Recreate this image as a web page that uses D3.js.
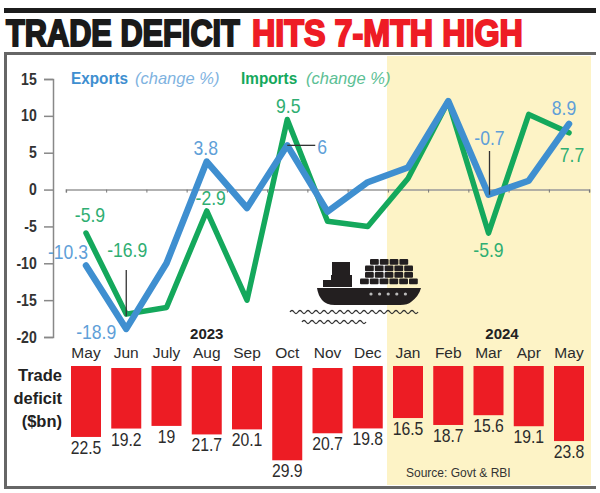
<!DOCTYPE html>
<html><head><meta charset="utf-8">
<script src="https://cdnjs.cloudflare.com/ajax/libs/d3/7.8.5/d3.min.js"></script>
<style>html,body{margin:0;padding:0;background:#fff}svg{display:block}text{font-family:"Liberation Sans",sans-serif}</style>
</head><body><svg id="c" width="600" height="493"></svg>
<script>
const months=["May","Jun","July","Aug","Sep","Oct","Nov","Dec","Jan","Feb","Mar","Apr","May"];
const exportsChange=[-10.3,-18.9,-10,3.8,-2.5,6,-3,1,3,12,-0.7,1.2,8.9];
const importsChange=[-5.9,-16.9,-16,-2.9,-15,9.5,-4.3,-5,1.5,12,-5.9,10.2,7.7];
const tradeDeficit=[22.5,19.2,19,21.7,20.1,29.9,20.7,19.8,16.5,18.7,15.6,19.1,23.8];
const yTicks=[15,10,5,0,-5,-10,-15,-20];
const exportLabels=[["-10.3",0,-18,-6],["-18.9",1,-30,10],["3.8",3,-1,-7],["-0.7",10,1,-50],["8.9",12,-5,-9]];
const importLabels=[["-5.9",0,4,-11],["-16.9",1,1,-57],["-2.9",3,4,-6],["9.5",5,1,-7],["-5.9",10,0,24],["7.7",12,3,29]];
const droppedBars=[1,6];

const svg=d3.select("#c");
const x=d3.scalePoint().domain(d3.range(months.length)).range([86,569]);
const xEdge=d3.scaleLinear().domain([-0.5,12.5]).range([65.9,589.1]);
const y=d3.scaleLinear().domain([-20,15]).range([337,79]);
const h=d3.scaleLinear().domain([0,30]).range([0,94.6]);
const BLUE="#3f8fd0",LBLUE="#5f9fd8",GREEN="#14a85c",LGREEN="#2fae72",DARK="#2c2c2c",RED="#ed1c24";
const narrow=(sel,s)=>sel.attr("transform",function(){const a=+this.getAttribute("x");return `translate(${a*(1-s)},0) scale(${s},1)`;});

svg.append("rect").attr("x",387).attr("y",56).attr("width",204).attr("height",429).attr("fill","#fdf3c6");
svg.append("rect").attr("x",4).attr("y",8).attr("width",592).attr("height",5).attr("fill","#1c1c1c");
svg.append("rect").attr("x",4).attr("y",52).attr("width",592).attr("height",3).attr("fill","#666");
svg.append("rect").attr("x",4).attr("y",52).attr("width",3).attr("height",437).attr("fill","#666");
svg.append("rect").attr("x",4).attr("y",486).attr("width",592).attr("height",3).attr("fill","#666");

function title(t,xp,len,c){const el=svg.append("text").attr("x",xp).attr("y",46)
 .attr("font-size",37).attr("font-weight",700).attr("fill",c).attr("stroke",c).attr("stroke-width",2).attr("stroke-linejoin","miter").text(t);
 narrow(el,len/el.node().getComputedTextLength());}
title("TRADE DEFICIT",6,234,"#1a1a1a");
title("HITS 7-MTH HIGH",252,271,"#ee1c25");

const yAxis=svg.append("g").attr("transform","translate(53,0)").call(d3.axisLeft(y).tickValues(yTicks).tickSize(9).tickPadding(4).tickFormat(d=>d));
yAxis.selectAll("path,line").attr("stroke","#888").attr("stroke-width",1.5);
yAxis.selectAll("text").attr("font-size",16).attr("font-weight",700).attr("fill","#333").attr("transform","scale(.88,1) translate(-5.5,0)");
const xAxis=svg.append("g").attr("transform",`translate(0,${y(0)})`).call(d3.axisBottom(xEdge).tickValues(d3.range(-0.5,13,1)).tickSize(3).tickFormat(""));
xAxis.selectAll("path").attr("stroke","#999").attr("stroke-width",1.5);
xAxis.selectAll("line").attr("stroke","#777").attr("stroke-width",1);

const line=d3.line().x((d,i)=>x(i)).y(d=>y(d));
svg.append("path").datum(importsChange).attr("d",line).attr("fill","none").attr("stroke",GREEN).attr("stroke-width",5.5).attr("stroke-linejoin","round").attr("stroke-linecap","round");
svg.append("path").datum(exportsChange).attr("d",line).attr("fill","none").attr("stroke",BLUE).attr("stroke-width",6.5).attr("stroke-linejoin","round").attr("stroke-linecap","round");

function leader(x1,y1,x2,y2){svg.append("line").attr("x1",x1).attr("y1",y1).attr("x2",x2).attr("y2",y2).attr("stroke","#333").attr("stroke-width",1.3);}
leader(x(1),270,x(1),y(-16.9)+2);
leader(x(5),y(6),x(5)+28,y(6));
leader(x(10)+1,151,x(10)+1,y(-0.7));

function vlabels(list,vals,c){narrow(svg.selectAll(null).data(list).join("text").attr("text-anchor","middle").attr("font-size",20).attr("fill",c)
 .attr("x",d=>x(d[1])+d[2]).attr("y",d=>y(vals[d[1]])+d[3]).text(d=>d[0]),.88);}
vlabels(exportLabels,exportsChange,LBLUE);
vlabels(importLabels,importsChange,LGREEN);
narrow(svg.append("text").attr("x",x(5)+30).attr("y",y(6)+9).attr("font-size",20).attr("fill",LBLUE).text("6"),.88);

function legend(name,xp,c,c2,xi){
 narrow(svg.append("text").attr("x",xp).attr("y",84).attr("font-size",16.5).attr("font-weight",700).attr("fill",c).text(name),.93);
 svg.append("text").attr("x",xi).attr("y",84).attr("font-size",16.5).attr("font-style","italic").attr("fill",c2).text("(change %)");
}
legend("Exports",71,BLUE,"#7fb3df",135);
legend("Imports",241,GREEN,"#5cc095",306);

svg.selectAll(null).data([["2023",x(3)],["2024",502]]).join("text").attr("x",d=>d[1]).attr("y",339).attr("text-anchor","middle").attr("font-size",15).attr("font-weight",700).attr("fill","#222").text(d=>d[0]);
svg.selectAll(null).data(months).join("text").attr("x",(d,i)=>x(i)).attr("y",358).attr("text-anchor","middle").attr("font-size",15.5).attr("fill",DARK).text(d=>d);

const barTop=i=>droppedBars.includes(i)?368:366;
svg.selectAll(null).data(tradeDeficit).join("rect").attr("x",(d,i)=>x(i)-15).attr("width",30).attr("y",(d,i)=>barTop(i)).attr("height",d=>h(d)).attr("fill",RED);
narrow(svg.selectAll(null).data(tradeDeficit).join("text").attr("x",(d,i)=>x(i)).attr("y",(d,i)=>barTop(i)+h(d)+17).attr("text-anchor","middle").attr("font-size",17.5).attr("fill",DARK).text(d=>d),.9);
svg.selectAll(null).data([["Trade",381],["deficit",404],["($bn)",427]]).join("text").attr("x",62).attr("y",d=>d[1]).attr("text-anchor","end").attr("font-size",16.5).attr("font-weight",700).attr("fill","#222").text(d=>d[0]);
svg.append("text").attr("x",406).attr("y",477).attr("font-size",12).attr("fill","#333").text("Source: Govt & RBI");

// ship icon
const ship=svg.append("g").attr("fill","#231f20");
ship.append("path").attr("d","M317 288 L421 288 Q419 296 411 302 Q408 305 400 305 L335 305 Q326 305 322 300 Q318 295 317 288Z");
ship.append("path").attr("d","M323 287 L323 280 L331 280 L331 275 L352 275 L352 287Z");
ship.append("rect").attr("x",332).attr("y",262).attr("width",18).attr("height",13);
const rows=[[370,259,4],[365,265.5,5],[365,272,5],[360,278.5,6]];
rows.forEach(r=>d3.range(r[2]).forEach(k=>ship.append("rect").attr("x",r[0]+k*9.8).attr("y",r[1]).attr("width",8.8).attr("height",5.8).attr("rx",1)));
d3.range(5).forEach(k=>ship.append("circle").attr("cx",371+k*8.6).attr("cy",294).attr("r",1.6).attr("fill","#bbb"));
function wave(x0,x1,yy){let d=`M${x0} ${yy}`;for(let a=x0;a<x1;a+=8){d+=` q2 -3 4 0 q2 3 4 0`;}
 svg.append("path").attr("d",d).attr("fill","none").attr("stroke","#333").attr("stroke-width",1.3);}
wave(290,412,312);wave(302,366,322);
</script></body></html>
